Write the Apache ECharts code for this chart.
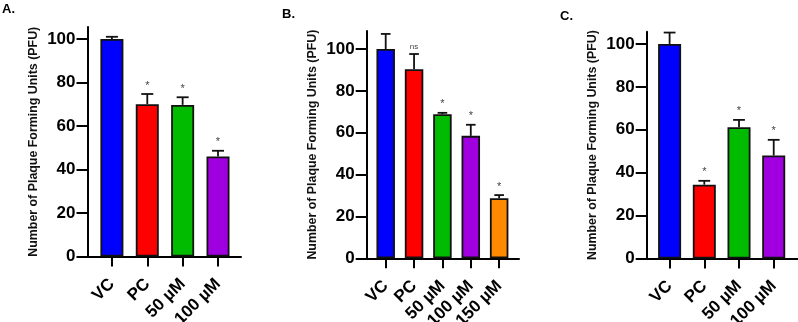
<!DOCTYPE html>
<html>
<head>
<meta charset="utf-8">
<script src="https://cdn.jsdelivr.net/npm/echarts@6.0.0/dist/echarts.min.js"></script>
<style>
html, body { margin: 0; padding: 0; background: #fff; }
#chart { width: 798px; height: 322px; }
</style>
</head>
<body>
<div id="chart"></div>
<script>
// panel A
var catA = ['VC', 'PC', '50 µM', '100 µM'];
var meanA = [100, 70, 69.7, 46];
var errA = [1, 4.7, 3.5, 2.6];
var sigA = ['', '*', '*', '*'];
// panel B
var catB = ['VC', 'PC', '50 µM', '100 µM', '150 µM'];
var meanB = [100, 90.3, 68.8, 58.5, 28.7];
var errB = [7.2, 7.3, 0.7, 5.3, 1.5];
var sigB = ['', 'ns', '*', '*', '*'];
// panel C
var catC = ['VC', 'PC', '50 µM', '100 µM'];
var meanC = [100, 34.4, 61.2, 48];
var errC = [5.3, 1.8, 3.4, 7.3];
var sigC = ['', '*', '*', '*'];

var yTicks = [0, 20, 40, 60, 80, 100];
var barColors = ['#0000ff', '#ff0000', '#00bb00', '#a000e0', '#ff8a00'];
var yName = 'Number of Plaque Forming Units (PFU)';
var font = 'Liberation Sans';

var panels = [
    {label: 'A.', cats: catA, means: meanA, errs: errA, sigs: sigA,
     grid: {left: 87.5, right: 557, top: 27, bottom: 65.5},
     xmin: -0.69, xmax: 3.65, ymax: 105.5, barWidth: 23, title: {left: 2, top: 3}},
    {label: 'B.', cats: catB, means: meanB, errs: errB, sigs: sigB,
     grid: {left: 366.7, right: 279, top: 31, bottom: 63.7},
     xmin: -0.67, xmax: 4.7, ymax: 108.6, barWidth: 18.5, title: {left: 282, top: 8}},
    {label: 'C.', cats: catC, means: meanC, errs: errC, sigs: sigC,
     grid: {left: 646.7, right: 0, top: 31.7, bottom: 63.5},
     xmin: -0.66, xmax: 3.7, ymax: 105.7, barWidth: 23, title: {left: 560, top: 10}}
];

var chart = echarts.init(document.getElementById('chart'));
var option = {animation: false, title: [], grid: [], xAxis: [], yAxis: [], series: []};

panels.forEach(function (p, k) {
    var idx = p.cats.map(function (c, i) { return i; });

    option.title.push({
        text: p.label, left: p.title.left, top: p.title.top, padding: 0,
        textStyle: {fontSize: 13, fontWeight: 'bold', fontFamily: font, color: '#000'}
    });
    // keep the plot box fixed even though the rotated labels run off the bottom
    option.grid.push(Object.assign({outerBoundsMode: 'none', containLabel: false}, p.grid));

    option.xAxis.push({
        type: 'value', gridIndex: k, min: p.xmin, max: p.xmax,
        splitLine: {show: false},
        axisLine: {onZero: false, lineStyle: {color: '#000', width: 2}},
        axisTick: {show: true, length: 10, customValues: idx, lineStyle: {color: '#000', width: 2}},
        axisLabel: {
            customValues: idx, rotate: 45, margin: 25,
            formatter: function (v) { return p.cats[Math.round(v)]; },
            fontFamily: font, fontWeight: 'bold', fontSize: 17, color: '#000'
        }
    });

    option.yAxis.push({
        type: 'value', gridIndex: k, min: 0, max: p.ymax,
        name: yName, nameLocation: 'middle', nameGap: 48,
        nameTextStyle: {fontFamily: font, fontWeight: 'bold', fontSize: 12.4, color: '#111'},
        splitLine: {show: false},
        axisLine: {show: true, onZero: false, lineStyle: {color: '#000', width: 2}},
        axisTick: {show: true, length: 11, customValues: yTicks, lineStyle: {color: '#000', width: 2}},
        axisLabel: {customValues: yTicks, margin: 12, fontFamily: font, fontWeight: 'bold', fontSize: 17, color: '#000'}
    });

    option.series.push({
        type: 'bar', xAxisIndex: k, yAxisIndex: k, barWidth: p.barWidth,
        itemStyle: {borderColor: '#111', borderWidth: 1.8},
        data: p.means.map(function (m, i) {
            return {value: [i, m], itemStyle: {color: barColors[i]}};
        })
    });

    // error bars (upper half) and significance marks
    option.series.push({
        type: 'custom', xAxisIndex: k, yAxisIndex: k, z: 5, clip: false,
        data: p.means.map(function (m, i) { return [i, m, p.errs[i]]; }),
        renderItem: function (params, api) {
            var i = api.value(0), m = api.value(1), e = api.value(2);
            var b = api.coord([i, m]);
            var t = api.coord([i, m + e]);
            var w = api.size([1, 0])[0] * 0.17;
            var ls = {stroke: '#111', lineWidth: 1.8};
            var children = [
                {type: 'line', shape: {x1: b[0], y1: b[1], x2: t[0], y2: t[1]}, style: ls},
                {type: 'line', shape: {x1: t[0] - w, y1: t[1], x2: t[0] + w, y2: t[1]}, style: ls}
            ];
            var s = p.sigs[params.dataIndex];
            if (s) {
                children.push({
                    type: 'text', x: t[0], y: t[1] - 3,
                    style: {text: s, align: 'center', verticalAlign: 'bottom',
                            fontSize: s == 'ns' ? 8 : 11, fontFamily: font, fill: '#444'}
                });
            }
            return {type: 'group', children: children};
        }
    });
});

chart.setOption(option);
</script>
</body>
</html>
